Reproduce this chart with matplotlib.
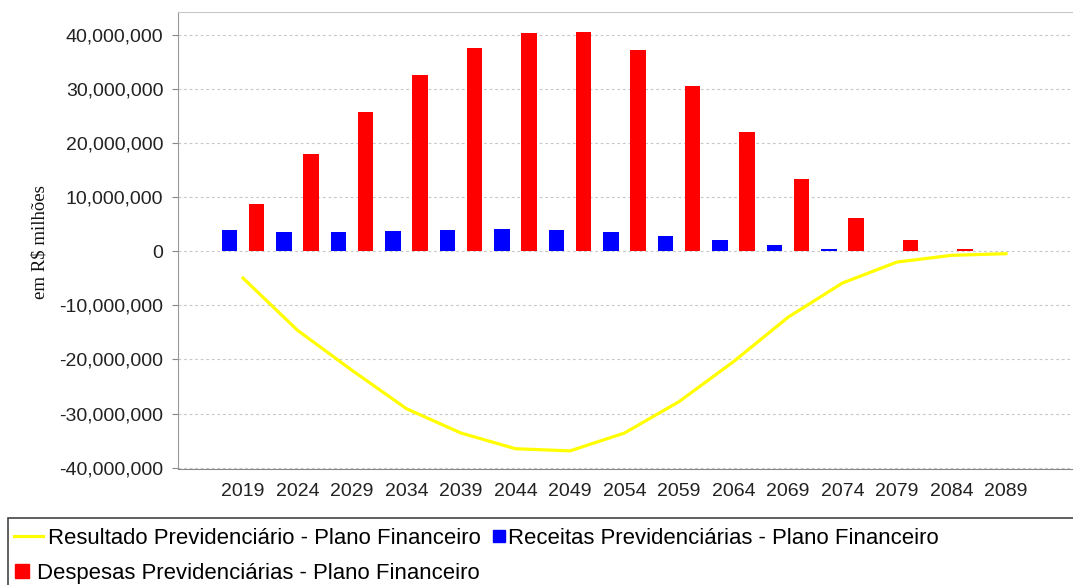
import matplotlib.pyplot as plt
import matplotlib.ticker as mticker
from matplotlib.lines import Line2D
from matplotlib.patches import Rectangle
import numpy as np

anos = ["2019", "2024", "2029", "2034", "2039", "2044", "2049", "2054",
        "2059", "2064", "2069", "2074", "2079", "2084", "2089"]

# valores em milhoes (multiplicados por 1e6 no eixo)
receitas = [3.89, 3.58, 3.64, 3.77, 3.89, 4.07, 3.89, 3.52,
            2.90, 2.04, 1.17, 0.49, 0.15, 0.05, 0.01]
despesas = [8.76, 18.09, 25.68, 32.6, 37.6, 40.3, 40.5, 37.2,
            30.6, 22.1, 13.3, 6.23, 2.04, 0.43, 0.15]
resultado = [-4.94, -14.6, -22.0, -29.1, -33.6, -36.5, -36.9, -33.6,
             -27.8, -20.4, -12.2, -5.86, -1.98, -0.74, -0.43]

W, H = 1073, 585
fig = plt.figure(figsize=(W / 100, H / 100), dpi=100)
ax = fig.add_axes([178 / W, 1 - 469 / H, 1 - 178 / W, (469 - 12) / H])

x = np.arange(len(anos))
rec = np.array(receitas) * 1e6
desp = np.array(despesas) * 1e6
res = np.array(resultado) * 1e6

ax.bar(x - 0.245, rec, width=0.285, color="#0000ff", zorder=2)
ax.bar(x + 0.245, desp, width=0.285, color="#ff0000", zorder=2)
ax.plot(x, res, color="#ffff00", linewidth=2.3, zorder=3)

ax.set_xlim(-1.193, 15.23)
ax.set_ylim(-40.25e6, 44.26e6)
ax.set_yticks(np.arange(-40e6, 40e6 + 1, 10e6))
ax.yaxis.set_major_formatter(mticker.FuncFormatter(lambda v, p: f"{v:,.0f}"))
ax.set_xticks(x)
ax.set_xticklabels(anos)

ax.grid(axis="y", color="#c8c8c8", linestyle=(0, (2.5, 2.5)), linewidth=0.8, zorder=0)
ax.tick_params(axis="y", length=4, color="#888888", pad=6.5, labelsize=14)
ax.tick_params(axis="x", length=0, pad=10, labelsize=14)
for lbl in ax.get_xticklabels() + ax.get_yticklabels():
    lbl.set_fontfamily("Liberation Sans")
    lbl.set_color("#222222")

ax.spines["right"].set_visible(False)
ax.spines["top"].set_color("#c8c8c8")
ax.spines["left"].set_color("#999999")
ax.spines["bottom"].set_color("#888888")

fig.text(40 / W, 1 - 242 / H, "em R$ milhões", rotation=90, ha="center", va="center",
         fontsize=13.5, family="Liberation Serif", color="#111111")

# legenda
fig.add_artist(Rectangle((8 / W, -0.05), 1.1, 1.05 - 518 / H, transform=fig.transFigure,
                         fill=False, edgecolor="#444444", linewidth=1.2, clip_on=False))

fs = 15.9
px = fs * 100 / 72
leg_kw = dict(frameon=False, borderpad=0, borderaxespad=0, loc="center left",
              prop={"family": "Liberation Sans", "size": fs})

h1 = Line2D([], [], color="#ffff00", linewidth=2.3)
l1 = fig.legend([h1], ["Resultado Previdenciário - Plano Financeiro"],
                bbox_to_anchor=(14 / W, 1 - 538 / H), handlelength=29 / px,
                handletextpad=5 / px, **leg_kw)

h2 = Line2D([], [], color="#0000ff", marker="s", linestyle="none", markersize=8)
l2 = fig.legend([h2], ["Receitas Previdenciárias - Plano Financeiro"],
                bbox_to_anchor=(493 / W, 1 - 538 / H), handlelength=11 / px,
                handletextpad=4 / px, **leg_kw)

h3 = Line2D([], [], color="#ff0000", marker="s", linestyle="none", markersize=9.5)
l3 = fig.legend([h3], ["Despesas Previdenciárias - Plano Financeiro"],
                bbox_to_anchor=(15 / W, 1 - 573 / H), handlelength=13 / px,
                handletextpad=9 / px, **leg_kw)

plt.savefig("out.png", dpi=100)
